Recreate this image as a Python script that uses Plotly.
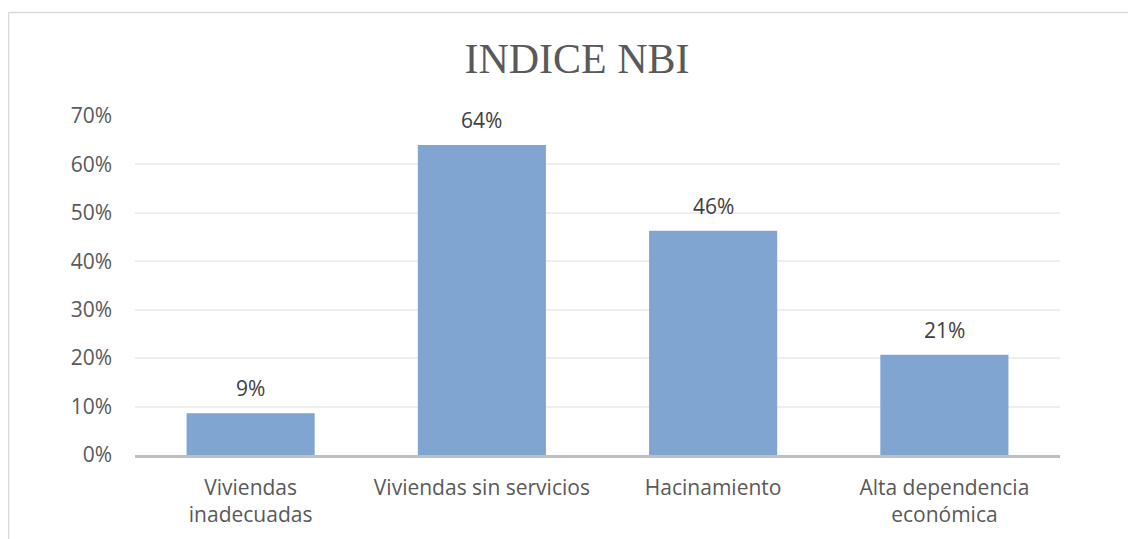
import plotly.graph_objects as go

categories = ["Viviendas<br>inadecuadas", "Viviendas sin servicios", "Hacinamiento", "Alta dependencia<br>económica"]
values = [0.086, 0.64, 0.463, 0.207]
tick_vals = [0, 0.1, 0.2, 0.3, 0.4, 0.5, 0.6, 0.7]
tick_text = ["0%", "10%", "20%", "30%", "40%", "50%", "60%", "70%"]

W, H = 1136, 539
OFF = 8  # page body margin
L, T = 135 - OFF, 116 - OFF
R = W - (1060 - OFF)
B = H - (455 - OFF)
pw, ph = W - L - R, H - T - B

fig = go.Figure(go.Bar(
    x=categories, y=values,
    marker=dict(color="#7FA5D0", line=dict(width=0)),
    hoverinfo="x+y",
))

for c, v in zip(categories, values):
    fig.add_annotation(x=c, y=v, xref="x", yref="y", text=f"{v:.0%}",
                       showarrow=False, yanchor="bottom", yshift=9,
                       font=dict(family="Open Sans", size=21, color="#404040"))

def px_x(px):
    return (px - OFF - L) / pw

def px_y(py):
    return (H - B - (py - OFF)) / ph

fig.update_layout(
    width=W, height=H,
    margin=dict(l=L, r=R, t=T, b=B),
    paper_bgcolor="white", plot_bgcolor="white",
    bargap=0.446,
    showlegend=False,
    title=dict(text="INDICE NBI", x=(577 - OFF) / W, xref="container", xanchor="center",
               y=1 - (58 - OFF) / H, yref="container", yanchor="middle",
               font=dict(family="Liberation Serif", size=42, color="#595959")),
    xaxis=dict(showgrid=False, showline=True, linecolor="#BFBFBF", linewidth=2.5,
               tickfont=dict(family="Open Sans", size=21, color="#595959"),
               ticklabelstandoff=12, zeroline=False),
    yaxis=dict(range=[0, 0.7], tickvals=tick_vals, ticktext=tick_text,
               showgrid=True, gridcolor="#EEEEEE", gridwidth=1.5,
               zeroline=False, showline=False,
               tickfont=dict(family="Open Sans", size=21, color="#595959"),
               ticklabelstandoff=22),
    shapes=[
        dict(type="line", xref="paper", yref="paper", x0=px_x(8.5), x1=px_x(8.5),
             y0=px_y(12.5), y1=px_y(600), line=dict(color="#D9D9D9", width=1.5)),
        dict(type="line", xref="paper", yref="paper", x0=px_x(8.5), x1=px_x(1200),
             y0=px_y(12.5), y1=px_y(12.5), line=dict(color="#D9D9D9", width=1.5)),
    ],
)

fig.write_html("out.html")
